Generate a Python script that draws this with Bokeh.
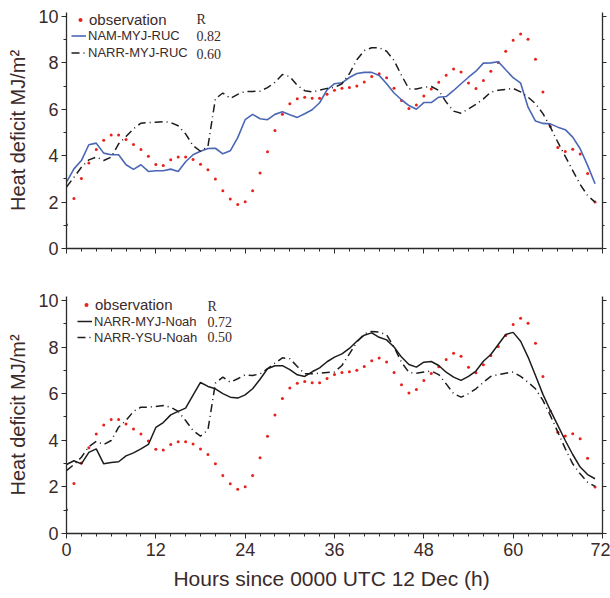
from bokeh.plotting import figure
from bokeh.layouts import column
from bokeh.models import (Range1d, LinearAxis, SingleIntervalTicker, Legend, LegendItem, Label,
                          CustomLabelingPolicy)
from bokeh.embed import file_html
from bokeh.resources import INLINE

hours = list(range(72))

observation = [1.02, 2.15, 3.02, 3.68, 4.27, 4.66, 4.89, 4.89, 4.70, 4.48,
               4.27, 3.97, 3.62, 3.58, 3.82, 3.94, 3.94, 3.84, 3.63, 3.39,
               2.99, 2.49, 2.13, 1.90, 2.01, 2.49, 3.25, 4.17, 5.09, 5.79,
               6.24, 6.45, 6.52, 6.47, 6.47, 6.65, 6.82, 6.91, 6.94, 7.00,
               7.17, 7.41, 7.53, 7.36, 6.91, 6.38, 6.03, 6.18, 6.57, 6.87,
               7.16, 7.47, 7.73, 7.61, 7.13, 6.90, 7.24, 7.64, 8.02, 8.50,
               8.97, 9.24, 9.02, 8.16, 6.74, 5.26, 4.35, 4.18, 4.28, 4.07,
               3.23, 2.00]

nam_myj_ruc = [2.86, 3.43, 3.79, 4.47, 4.54, 4.11, 4.04, 4.04, 3.61, 3.41,
               3.61, 3.32, 3.35, 3.35, 3.42, 3.32, 3.74, 4.04, 4.19, 4.31,
               4.32, 4.08, 4.21, 4.78, 5.55, 5.78, 5.59, 5.55, 5.78, 5.89,
               5.76, 5.65, 5.81, 5.98, 6.28, 6.84, 7.10, 7.14, 7.37, 7.54,
               7.59, 7.59, 7.46, 7.10, 6.70, 6.41, 6.16, 6.00, 6.29, 6.29,
               6.52, 6.55, 6.81, 7.10, 7.38, 7.64, 7.99, 8.00, 8.05, 7.70,
               7.36, 7.13, 6.09, 5.49, 5.39, 5.37, 5.23, 5.12, 4.80, 4.30,
               3.58, 2.79]

narr_myj_ruc = [2.65, 3.07, 3.50, 3.82, 3.94, 3.79, 3.94, 4.51, 4.83, 5.16,
                5.40, 5.43, 5.44, 5.47, 5.43, 5.29, 4.94, 4.43, 4.19, 4.40,
                6.45, 6.70, 6.47, 6.64, 6.77, 6.77, 6.78, 6.93, 7.16, 7.50,
                7.41, 7.03, 6.80, 6.75, 6.82, 6.90, 6.94, 7.10, 7.53, 8.13,
                8.53, 8.65, 8.65, 8.50, 8.10, 7.46, 6.88, 6.87, 6.95, 6.98,
                6.81, 6.31, 5.92, 5.83, 6.02, 6.21, 6.45, 6.74, 6.82, 6.85,
                6.90, 6.75, 6.52, 6.24, 5.81, 5.23, 4.58, 3.97, 3.36, 2.76,
                2.28, 2.00]

narr_myj_noah = [2.96, 3.12, 2.99, 3.48, 3.63, 2.99, 3.05, 3.08, 3.33, 3.46,
                 3.63, 3.82, 4.55, 4.76, 5.09, 5.24, 5.38, 5.94, 6.48, 6.31,
                 6.21, 6.00, 5.85, 5.81, 5.95, 6.21, 6.62, 7.07, 7.20, 7.20,
                 7.03, 6.81, 6.74, 6.94, 7.11, 7.37, 7.57, 7.71, 7.94, 8.25,
                 8.51, 8.61, 8.42, 8.31, 8.00, 7.57, 7.25, 7.14, 7.35, 7.38,
                 7.21, 6.92, 6.71, 6.57, 6.74, 6.97, 7.39, 7.68, 8.11, 8.54,
                 8.63, 8.25, 7.57, 6.78, 5.97, 5.28, 4.64, 3.99, 3.39, 2.85,
                 2.53, 2.35]

narr_ysu_noah = [2.70, 2.96, 3.27, 3.73, 3.95, 3.82, 3.99, 4.56, 4.85, 5.24,
                 5.42, 5.42, 5.45, 5.49, 5.42, 5.24, 4.85, 4.42, 4.18, 4.45,
                 6.45, 6.71, 6.49, 6.64, 6.81, 6.78, 6.85, 7.07, 7.31, 7.54,
                 7.50, 7.17, 6.85, 6.85, 6.88, 6.91, 6.93, 7.21, 7.71, 8.21,
                 8.57, 8.67, 8.64, 8.53, 8.00, 7.35, 6.91, 6.88, 6.93, 6.97,
                 6.82, 6.42, 6.00, 5.85, 6.00, 6.21, 6.49, 6.74, 6.82, 6.88,
                 6.93, 6.74, 6.49, 6.21, 5.71, 5.06, 4.35, 3.64, 2.99, 2.56,
                 2.20, 2.02]

top_labels = ["NAM-MYJ-RUC", "NARR-MYJ-RUC"]
top_r = ["0.82", "0.60"]
bottom_labels = ["NARR-MYJ-Noah", "NARR-YSU-Noah"]
bottom_r = ["0.72", "0.50"]

TEXT = "#3b2a2a"
AXIS = "#2b2b2b"
SANS = "Liberation Sans"
SERIF = "Liberation Serif"
RED = "#e8211c"
BLUE = "#4a67b5"
BLACK = "#1c1c1c"
DASHDOT = "8 4 1 4"

NO_LABELS = """
try {
  const arr = Array.from(indices);
  for (const i of arr) {
    if (typeof indices.unset === 'function') { indices.unset(i); }
    else if (typeof indices.set === 'function') { indices.set(i, false); }
  }
} catch (e) {}
return indices;
"""


def make_fig(height, bottom_border, show_x):
    p = figure(width=610, height=height, output_backend="svg", toolbar_location=None,
               x_range=Range1d(0, 72), y_range=Range1d(0, 10.17),
               min_border_left=66, min_border_right=7, min_border_top=12,
               min_border_bottom=bottom_border)
    p.outline_line_color = None
    p.xgrid.visible = False
    p.ygrid.visible = False
    p.background_fill_color = "white"

    xa = p.xaxis[0]
    xa.ticker = SingleIntervalTicker(interval=12, num_minor_ticks=6)
    xa.axis_line_color = AXIS
    xa.axis_line_width = 1.3
    xa.major_tick_line_color = AXIS
    xa.minor_tick_line_color = AXIS
    xa.major_tick_out = 5
    xa.major_tick_in = 0
    xa.minor_tick_out = 3
    xa.minor_tick_in = 0
    if show_x:
        xa.major_label_text_font = SANS
        xa.major_label_text_font_size = "18px"
        xa.major_label_text_color = TEXT
        xa.major_label_standoff = 4
        xa.axis_label = "Hours since 0000 UTC 12 Dec  (h)"
        xa.axis_label_text_font = SANS
        xa.axis_label_text_font_size = "21px"
        xa.axis_label_text_font_style = "normal"
        xa.axis_label_text_color = TEXT
        xa.axis_label_standoff = 8
    else:
        xa.major_label_policy = CustomLabelingPolicy(code=NO_LABELS)
        xa.major_label_text_font_size = "1px"
        xa.major_label_standoff = 0

    ya = p.yaxis[0]
    ya.ticker = SingleIntervalTicker(interval=2, num_minor_ticks=2)
    ya.axis_line_color = AXIS
    ya.axis_line_width = 1.3
    ya.major_tick_line_color = AXIS
    ya.minor_tick_line_color = AXIS
    ya.major_tick_out = 5
    ya.major_tick_in = 0
    ya.minor_tick_out = 3
    ya.minor_tick_in = 0
    ya.major_label_text_font = SANS
    ya.major_label_text_font_size = "18px"
    ya.major_label_text_color = TEXT
    ya.major_label_standoff = 3
    ya.axis_label = "Heat deficit MJ/m\u00b2"
    ya.axis_label_text_font = SANS
    ya.axis_label_text_font_size = "20px"
    ya.axis_label_text_font_style = "normal"
    ya.axis_label_text_color = TEXT
    ya.axis_label_standoff = 6

    ra = LinearAxis(ticker=SingleIntervalTicker(interval=2, num_minor_ticks=2))
    ra.axis_line_color = AXIS
    ra.axis_line_width = 1.3
    ra.major_tick_line_color = AXIS
    ra.minor_tick_line_color = AXIS
    ra.major_tick_out = 4
    ra.major_tick_in = 0
    ra.minor_tick_out = 2
    ra.minor_tick_in = 0
    ra.major_label_policy = CustomLabelingPolicy(code=NO_LABELS)
    ra.major_label_text_font_size = "1px"
    ra.major_label_standoff = 0
    p.add_layout(ra, "right")
    return p


def add_legends(p, obs_r, line_items, r_labels, names, obs_loc, lines_loc, obs_h, line_h,
                r_x, r_ys):
    leg1 = Legend(items=[LegendItem(label="observation", renderers=[obs_r])],
                  location=obs_loc, padding=0, margin=0, spacing=0,
                  glyph_width=10, glyph_height=obs_h, label_height=obs_h,
                  label_standoff=4, label_text_font=SANS, label_text_font_size="15px",
                  label_text_color=TEXT, border_line_color=None, background_fill_alpha=0)
    leg2 = Legend(items=[LegendItem(label=n, renderers=[r]) for n, r in zip(names, line_items)],
                  location=lines_loc, padding=0, margin=0, spacing=0,
                  glyph_width=15, glyph_height=line_h, label_height=line_h,
                  label_standoff=2, label_text_font=SANS, label_text_font_size="13px",
                  label_text_color=TEXT, border_line_color=None, background_fill_alpha=0)
    p.add_layout(leg1)
    p.add_layout(leg2)
    for txt, y in zip(["R"] + r_labels, r_ys):
        p.add_layout(Label(x=r_x, y=y, x_units="screen", y_units="screen", text=txt,
                           text_font=SERIF, text_font_size="14px", text_color=TEXT,
                           text_baseline="middle", text_align="left"))


# ---- top panel ----
p1 = make_fig(284, 36, False)
o1 = p1.scatter(hours, observation, marker="circle", size=3, fill_color=RED, line_width=0)
l1 = p1.line(hours, nam_myj_ruc, line_color=BLUE, line_width=1.6)
l2 = p1.line(hours, narr_myj_ruc, line_color=BLACK, line_width=1.5, line_dash=DASHDOT)
add_legends(p1, o1, [l1, l2], top_r, top_labels, (9, 220), (5, 187), 17, 17,
            130, [229, 213, 195])

# ---- bottom panel ----
p2 = make_fig(314, 65, True)
o2 = p2.scatter(hours, observation, marker="circle", size=3, fill_color=RED, line_width=0)
l3 = p2.line(hours, narr_myj_noah, line_color=BLACK, line_width=1.5)
l4 = p2.line(hours, narr_ysu_noah, line_color=BLACK, line_width=1.5, line_dash=DASHDOT)
add_legends(p2, o2, [l3, l4], bottom_r, bottom_labels, (15, 220), (11, 188), 17, 16,
            141, [227, 212, 197])

layout = column(p1, p2, spacing=0)
open("out.html", "w").write(file_html(layout, INLINE))
